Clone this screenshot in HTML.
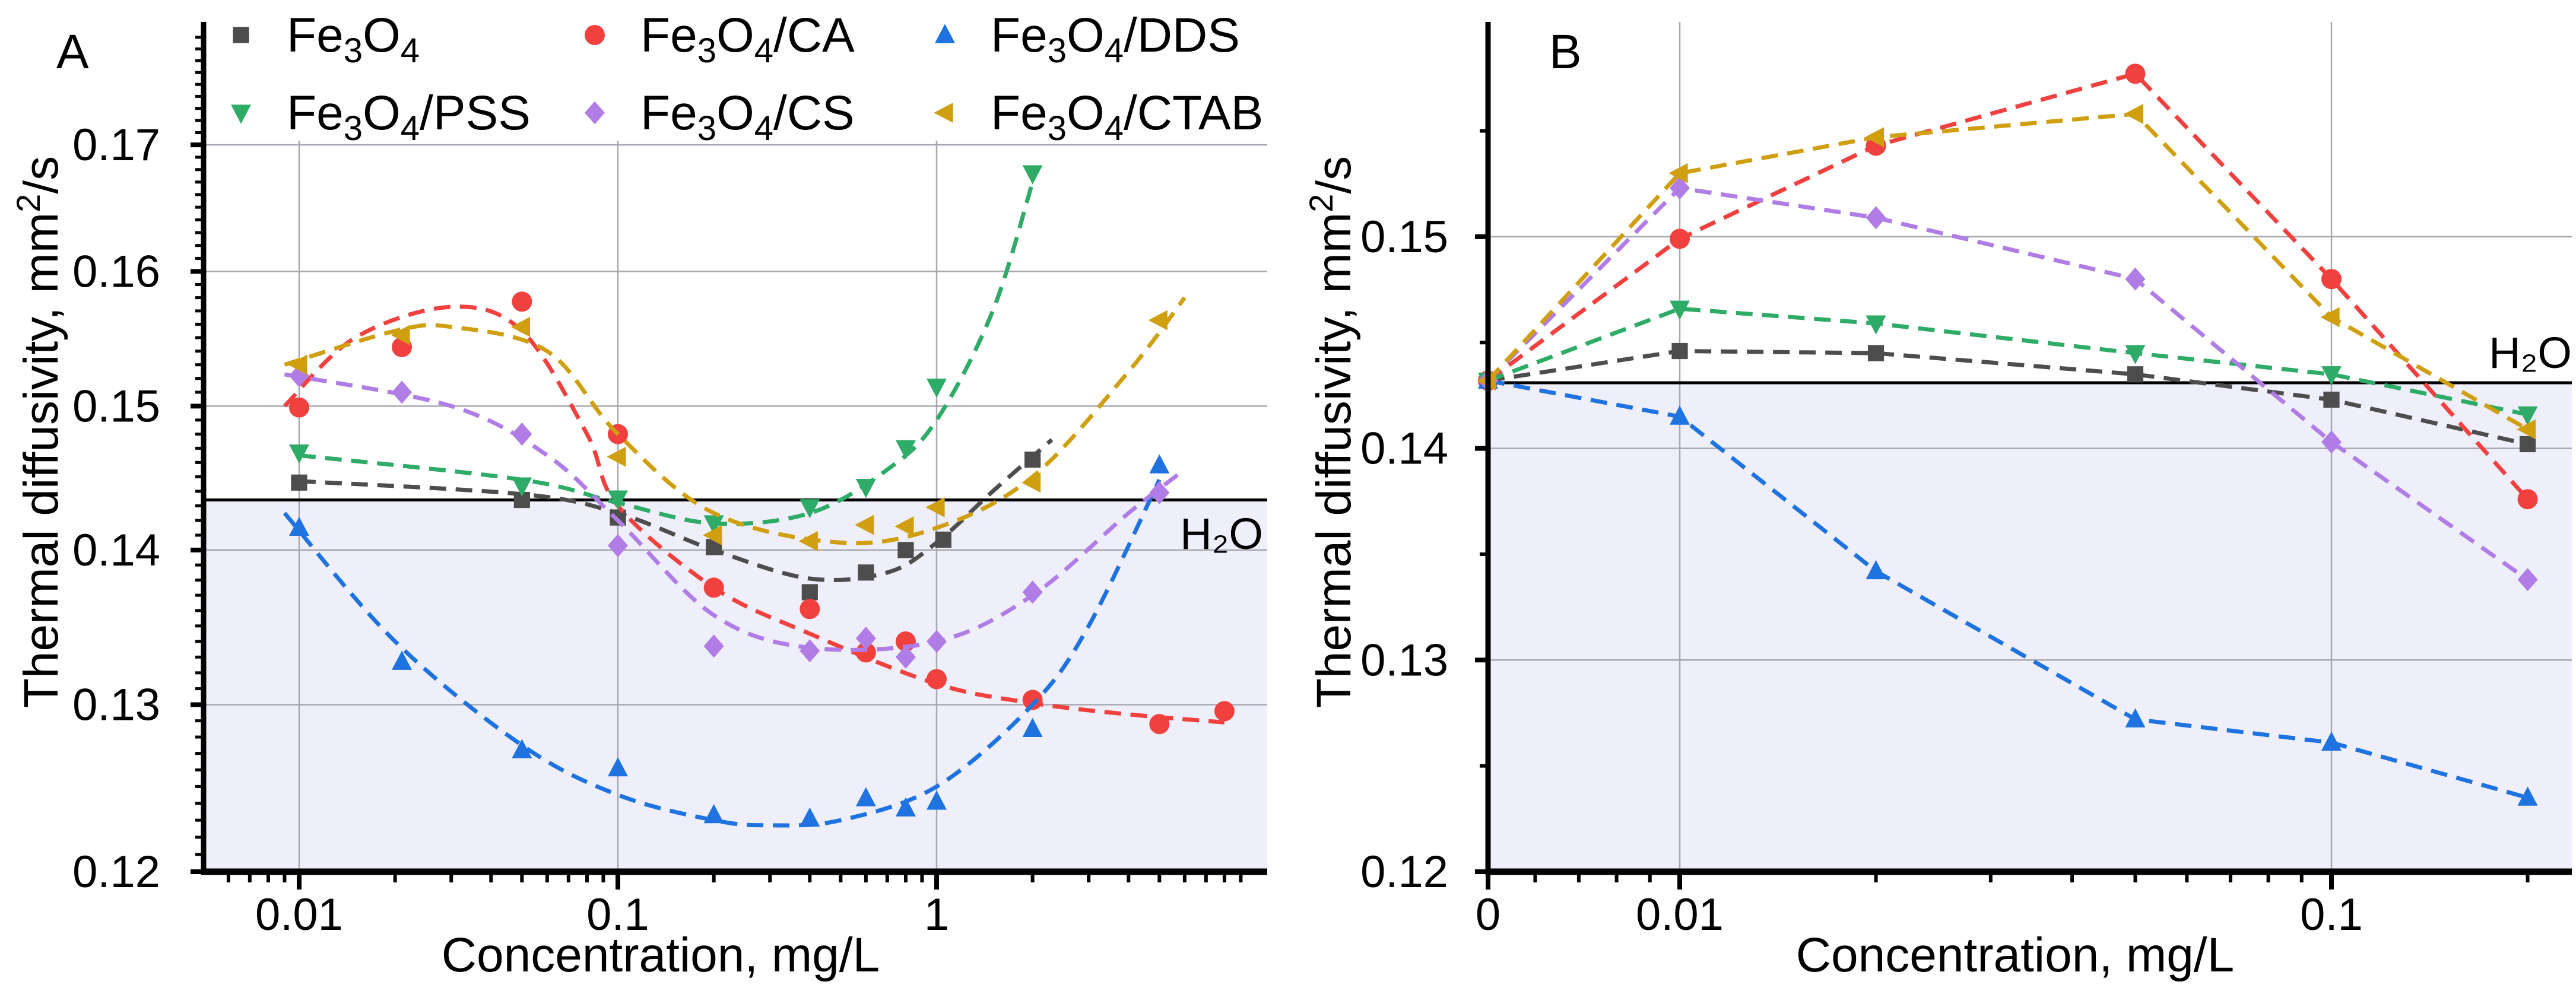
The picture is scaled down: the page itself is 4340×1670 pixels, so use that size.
<!DOCTYPE html>
<html><head><meta charset="utf-8"><style>
html,body{margin:0;padding:0;background:#fff;}
svg{display:block;}
text{font-family:"Liberation Sans Narrow","Liberation Sans",sans-serif;fill:#000;}
</style></head><body>
<svg id="chart" width="4340" height="1670" viewBox="0 0 4340 1670" xmlns="http://www.w3.org/2000/svg"></svg>
<script>
// ---------- data ----------
const seriesNames = ["Fe3O4","Fe3O4/CA","Fe3O4/DDS","Fe3O4/PSS","Fe3O4/CS","Fe3O4/CTAB"];
const seriesKeys = ["fe3o4","ca","dds","pss","cs","ctab"];
const seriesColors = ["#4d4d4d","#f0413f","#1e73e0","#2eab66","#b07ce6","#d09f10"];
const seriesMarkers = ["square","circle","up","down","diamond","left"];

// Panel A measured points
const aX_fe3o4 = [0.01,0.05,0.1,0.2,0.4,0.6,0.8,1.05,2];
const aY_fe3o4 = [0.1446,0.1434,0.1422,0.1402,0.1372,0.1385,0.1400,0.1407,0.1462];
const aX_ca = [0.01,0.021,0.05,0.1,0.2,0.4,0.6,0.8,1,2,5,8];
const aY_ca = [0.1499,0.1543,0.1577,0.1480,0.1375,0.1361,0.1333,0.1340,0.1316,0.1303,0.1288,0.1296];
const aX_dds = [0.01,0.021,0.05,0.1,0.2,0.4,0.6,0.8,1,2,5];
const aY_dds = [0.1415,0.1327,0.1272,0.1261,0.1233,0.1231,0.1243,0.1237,0.1241,0.1285,0.1458];
const aX_pss = [0.01,0.05,0.1,0.2,0.4,0.6,0.8,1,2];
const aY_pss = [0.1467,0.1444,0.1435,0.1418,0.1429,0.1443,0.1470,0.1514,0.1677];
const aX_cs = [0.01,0.021,0.05,0.1,0.2,0.4,0.6,0.8,1,2,5];
const aY_cs = [0.1522,0.1510,0.1480,0.1403,0.1337,0.1334,0.1342,0.1330,0.1340,0.1372,0.1439];
const aX_ctab = [0.01,0.021,0.05,0.1,0.2,0.4,0.6,0.8,1,2,5];
const aY_ctab = [0.1530,0.1552,0.1558,0.1464,0.1410,0.1406,0.1417,0.1416,0.1429,0.1446,0.1563];

// Panel A fitted curves
const fX_fe3o4 = [0.01,0.05,0.1,0.2,0.4,0.7,1,1.5,2.3];
const fY_fe3o4 = [0.1447,0.1438,0.1425,0.1400,0.1381,0.1385,0.1405,0.1440,0.1476];
const fX_ca = [0.009,0.015,0.03,0.05,0.08,0.1,0.2,0.4,1,2,4,8];
const fY_ca = [0.1500,0.1550,0.1573,0.1555,0.1480,0.1430,0.1375,0.1345,0.1313,0.1301,0.1294,0.1289];
const fX_dds = [0.009,0.02,0.05,0.1,0.2,0.3,0.5,1,2,3,5];
const fY_dds = [0.1425,0.1340,0.1275,0.1245,0.1230,0.1227,0.1230,0.1250,0.1300,0.1350,0.1448];
const fX_pss = [0.01,0.05,0.1,0.2,0.4,0.7,1,1.5,2];
const fY_pss = [0.1465,0.1448,0.1432,0.1418,0.1425,0.1455,0.1490,0.1570,0.1670];
const fX_cs = [0.009,0.03,0.06,0.1,0.2,0.4,1,2,4,6];
const fY_cs = [0.1523,0.1500,0.1465,0.1420,0.1357,0.1336,0.1340,0.1370,0.1425,0.1455];
const fX_ctab = [0.009,0.02,0.03,0.06,0.1,0.2,0.5,1,2,4,6];
const fY_ctab = [0.1530,0.1555,0.1558,0.1540,0.1480,0.1425,0.1405,0.1415,0.1450,0.1525,0.1580];

// Panel B points (0 plotted at axis origin)
const bX = [0,0.01,0.02,0.05,0.1,0.2];
const bY_fe3o4 = [0.1432,0.1446,0.1445,0.1435,0.1423,0.1402];
const bY_ca = [0.1432,0.1499,0.1543,0.1577,0.1480,0.1376];
const bY_dds = [0.1432,0.1415,0.1342,0.1272,0.1261,0.1235];
const bY_pss = [0.1432,0.1466,0.1459,0.1445,0.1435,0.1416];
const bY_cs = [0.1432,0.1523,0.1509,0.1480,0.1403,0.1338];
const bY_ctab = [0.1432,0.1530,0.1547,0.1558,0.1462,0.1409];

const aYTicks = [0.12,0.13,0.14,0.15,0.16,0.17];
const aYTickLabels = ["0.12","0.13","0.14","0.15","0.16","0.17"];
const aXTicks = [0.01,0.1,1];
const aXTickLabels = ["0.01","0.1","1"];
const bYTicks = [0.12,0.13,0.14,0.15];
const bYTickLabels = ["0.12","0.13","0.14","0.15"];
const bXTicks = [0,0.01,0.1];
const bXTickLabels = ["0","0.01","0.1"];
const waterA = 0.1434;
const waterB = 0.1431;

// ---------- helpers ----------
const NS="http://www.w3.org/2000/svg";
const svg=document.getElementById('chart');
function mk(tag,attrs,parent){const e=document.createElementNS(NS,tag);for(const k in attrs)e.setAttribute(k,attrs[k]);(parent||svg).appendChild(e);return e;}

// Panel A axes
const A={L:343,R:2135,T:37,B:1469};
const aXmin=Math.log10(0.00502), aPerDec=537;
function axA(v){return 504+(Math.log10(v)+2)*aPerDec;}
const aPerDecY=8097;
function ayA(v){return 1469-(Math.log10(v)-Math.log10(0.12))*aPerDecY;}
// Panel B axes
const B={L:2507,R:4333,T:37,B:1469};
function axB(v){ if(v<=0) return B.L; return 2830+(Math.log10(v)+2)*1098;}
function ayB(v){return 1469-(v-0.12)*35670;}

function catmull(pts){
  let d="M"+pts[0][0].toFixed(1)+","+pts[0][1].toFixed(1);
  for(let i=0;i<pts.length-1;i++){
    const p0=pts[i-1]||pts[i],p1=pts[i],p2=pts[i+1],p3=pts[i+2]||p2;
    const c1=[p1[0]+(p2[0]-p0[0])/6,p1[1]+(p2[1]-p0[1])/6];
    const c2=[p2[0]-(p3[0]-p1[0])/6,p2[1]-(p3[1]-p1[1])/6];
    d+=" C"+c1[0].toFixed(1)+","+c1[1].toFixed(1)+" "+c2[0].toFixed(1)+","+c2[1].toFixed(1)+" "+p2[0].toFixed(1)+","+p2[1].toFixed(1);
  }
  return d;
}
function marker(g,type,x,y,color,s){
  let e;
  if(type==="square") e=mk('rect',{x:x-s*0.8,y:y-s*0.8,width:s*1.6,height:s*1.6,fill:color},g);
  else if(type==="circle") e=mk('circle',{cx:x,cy:y,r:s,fill:color},g);
  else if(type==="up") e=mk('polygon',{points:`${x},${y-s*1.1} ${x-s},${y+s*0.8} ${x+s},${y+s*0.8}`,fill:color},g);
  else if(type==="down") e=mk('polygon',{points:`${x},${y+s*1.1} ${x-s},${y-s*0.8} ${x+s},${y-s*0.8}`,fill:color},g);
  else if(type==="diamond") e=mk('polygon',{points:`${x},${y-s*1.15} ${x+s},${y} ${x},${y+s*1.15} ${x-s},${y}`,fill:color},g);
  else e=mk('polygon',{points:`${x-s*1.1},${y} ${x+s*0.8},${y-s} ${x+s*0.8},${y+s}`,fill:color},g);
  return e;
}

// ---------- Panel A ----------
const gA=mk('g',{});


const shA=mk('rect',{x:A.L,y:ayA(waterA),width:A.R-A.L,height:A.B-ayA(waterA),fill:"#efeffc"},gA);


aYTicks.forEach((t,i)=>{
  if(i>0){const l=mk('line',{x1:A.L,x2:A.R,y1:ayA(t),y2:ayA(t),stroke:"#a8a8b0","stroke-width":2.5},gA);
  
  }
  const tx=mk('text',{x:270,y:ayA(t)+26,"font-size":76,"text-anchor":"end"},gA);
  tx.textContent=aYTickLabels[i];
  
  
  mk('line',{x1:A.L-22,x2:A.L,y1:ayA(t),y2:ayA(t),stroke:"#000","stroke-width":8},gA);
});
for(let v=0.121;v<0.181;v+=0.001){ if(Math.abs(v*100-Math.round(v*100))<1e-6) continue;
  mk('line',{x1:A.L-14,x2:A.L,y1:ayA(v),y2:ayA(v),stroke:"#000","stroke-width":5},gA);}
aXTicks.forEach((t,i)=>{
  const l=mk('line',{x1:axA(t),x2:axA(t),y1:A.T+200,y2:A.B,stroke:"#a8a8b0","stroke-width":2.5},gA);
  
  
  mk('line',{x1:axA(t),x2:axA(t),y1:A.B,y2:A.B+30,stroke:"#000","stroke-width":8},gA);
  const tx=mk('text',{x:axA(t),y:1567,"font-size":76,"text-anchor":"middle"},gA);
  tx.textContent=aXTickLabels[i];
  
  
});
for(let d=-3;d<=1;d++)for(let m=2;m<=9;m++){const v=m*Math.pow(10,d);const x=axA(v);if(x<A.L||x>A.R)continue;
  mk('line',{x1:x,x2:x,y1:A.B,y2:A.B+18,stroke:"#000","stroke-width":6},gA);}
const wA=mk('line',{x1:A.L,x2:A.R,y1:ayA(waterA),y2:ayA(waterA),stroke:"#000","stroke-width":5},gA);


const hA=mk('text',{x:2128,y:925,"font-size":74,"text-anchor":"end"},gA);
hA.textContent="H₂O";



const aPts={fe3o4:[aX_fe3o4,aY_fe3o4],ca:[aX_ca,aY_ca],dds:[aX_dds,aY_dds],pss:[aX_pss,aY_pss],cs:[aX_cs,aY_cs],ctab:[aX_ctab,aY_ctab]};
const aFit={fe3o4:[fX_fe3o4,fY_fe3o4],ca:[fX_ca,fY_ca],dds:[fX_dds,fY_dds],pss:[fX_pss,fY_pss],cs:[fX_cs,fY_cs],ctab:[fX_ctab,fY_ctab]};
seriesKeys.forEach((k,si)=>{
  const g=mk('g',{},gA);
  
  
  const [fx,fy]=aFit[k];
  const p=mk('path',{d:catmull(fx.map((x,i)=>[axA(x),ayA(fy[i])])),fill:"none",stroke:seriesColors[si],"stroke-width":7,"stroke-dasharray":"28 16"},g);
  
  
  const [px,py]=aPts[k];
  px.forEach((x,i)=>{const m=marker(g,seriesMarkers[si],axA(x),ayA(py[i]),seriesColors[si],17);
    
    });
});
mk('line',{x1:A.L,x2:A.L,y1:A.T,y2:A.B+5,stroke:"#000","stroke-width":9},gA);
mk('line',{x1:A.L-4,x2:A.R,y1:A.B,y2:A.B,stroke:"#000","stroke-width":11},gA);
const la=mk('text',{x:95,y:115,"font-size":82},gA); la.textContent="A";


const xtA=mk('text',{x:1113,y:1637,"font-size":82,"text-anchor":"middle"},gA); xtA.textContent="Concentration, mg/L";


const ytA=mk('text',{x:0,y:0,"font-size":82,"text-anchor":"middle",transform:"translate(97,728) rotate(-90)"},gA);
ytA.innerHTML='Thermal diffusivity, mm<tspan dy="-30" font-size="56">2</tspan><tspan dy="30">/s</tspan>';



// Legend
const legPos=[[406,59],[1002,59],[1592,59],[406,190],[1002,190],[1592,190]];
const legOrder=[0,1,2,3,4,5];
const legSlot={0:0,1:1,2:2,3:3,4:4,5:5};
// order in picture: row1 Fe3O4, CA, DDS; row2 PSS, CS, CTAB
legOrder.forEach(si=>{
  const [lx,ly]=legPos[legSlot[si]];
  const g=mk('g',{},gA);
  
  
  marker(g,seriesMarkers[si],lx,ly,seriesColors[si],17);
  const t=mk('text',{x:lx+77,y:ly+28,"font-size":82},g);
  const suf=seriesNames[si].slice(5);
  t.innerHTML='Fe<tspan dy="18" font-size="58">3</tspan><tspan dy="-18">O</tspan><tspan dy="18" font-size="58">4</tspan><tspan dy="-18">'+suf+'</tspan>';
});

// ---------- Panel B ----------
const gB=mk('g',{});


const shB=mk('rect',{x:B.L,y:ayB(waterB),width:B.R-B.L,height:B.B-ayB(waterB),fill:"#efeffc"},gB);


bYTicks.forEach((t,i)=>{
  if(i>0){const l=mk('line',{x1:B.L,x2:B.R,y1:ayB(t),y2:ayB(t),stroke:"#a8a8b0","stroke-width":2.5},gB);
  
  }
  const tx=mk('text',{x:2440,y:ayB(t)+26,"font-size":76,"text-anchor":"end"},gB);
  tx.textContent=bYTickLabels[i];
  
  
  mk('line',{x1:B.L-22,x2:B.L,y1:ayB(t),y2:ayB(t),stroke:"#000","stroke-width":8},gB);
});
[0.125,0.135,0.145,0.155].forEach(v=>mk('line',{x1:B.L-14,x2:B.L,y1:ayB(v),y2:ayB(v),stroke:"#000","stroke-width":6},gB));
bXTicks.forEach((t,i)=>{
  if(t>0){const l=mk('line',{x1:axB(t),x2:axB(t),y1:A.T,y2:B.B,stroke:"#a8a8b0","stroke-width":2.5},gB);
  
  }
  mk('line',{x1:axB(t),x2:axB(t),y1:B.B,y2:B.B+30,stroke:"#000","stroke-width":8},gB);
  const tx=mk('text',{x:axB(t),y:1567,"font-size":76,"text-anchor":"middle"},gB);
  tx.textContent=bXTickLabels[i];
  
  
});
for(let d=-3;d<=-1;d++)for(let m=2;m<=9;m++){const v=m*Math.pow(10,d);const x=axB(v);if(x<B.L+20||x>B.R)continue;
  mk('line',{x1:x,x2:x,y1:B.B,y2:B.B+18,stroke:"#000","stroke-width":6},gB);}
const wB=mk('line',{x1:B.L,x2:B.R,y1:ayB(waterB),y2:ayB(waterB),stroke:"#000","stroke-width":5},gB);


const hB=mk('text',{x:4333,y:620,"font-size":74,"text-anchor":"end"},gB);
hB.textContent="H₂O";


const bPts={fe3o4:bY_fe3o4,ca:bY_ca,dds:bY_dds,pss:bY_pss,cs:bY_cs,ctab:bY_ctab};
seriesKeys.forEach((k,si)=>{
  const g=mk('g',{},gB);
  
  
  const ys=bPts[k];
  const p=mk('polyline',{points:bX.map((x,i)=>axB(x).toFixed(1)+","+ayB(ys[i]).toFixed(1)).join(" "),fill:"none",stroke:seriesColors[si],"stroke-width":7,"stroke-dasharray":"28 16"},g);
  
  
  bX.forEach((x,i)=>{const m=marker(g,seriesMarkers[si],axB(x),ayB(ys[i]),seriesColors[si],17);
    
    });
});
mk('line',{x1:B.L,x2:B.L,y1:B.T,y2:B.B+5,stroke:"#000","stroke-width":9},gB);
mk('line',{x1:B.L-4,x2:B.R,y1:B.B,y2:B.B,stroke:"#000","stroke-width":11},gB);
const lb=mk('text',{x:2610,y:115,"font-size":82},gB); lb.textContent="B";


const xtB=mk('text',{x:3395,y:1637,"font-size":82,"text-anchor":"middle"},gB); xtB.textContent="Concentration, mg/L";


const ytB=mk('text',{x:0,y:0,"font-size":82,"text-anchor":"middle",transform:"translate(2275,728) rotate(-90)"},gB);
ytB.innerHTML='Thermal diffusivity, mm<tspan dy="-30" font-size="56">2</tspan><tspan dy="30">/s</tspan>';


</script>
</body></html>
